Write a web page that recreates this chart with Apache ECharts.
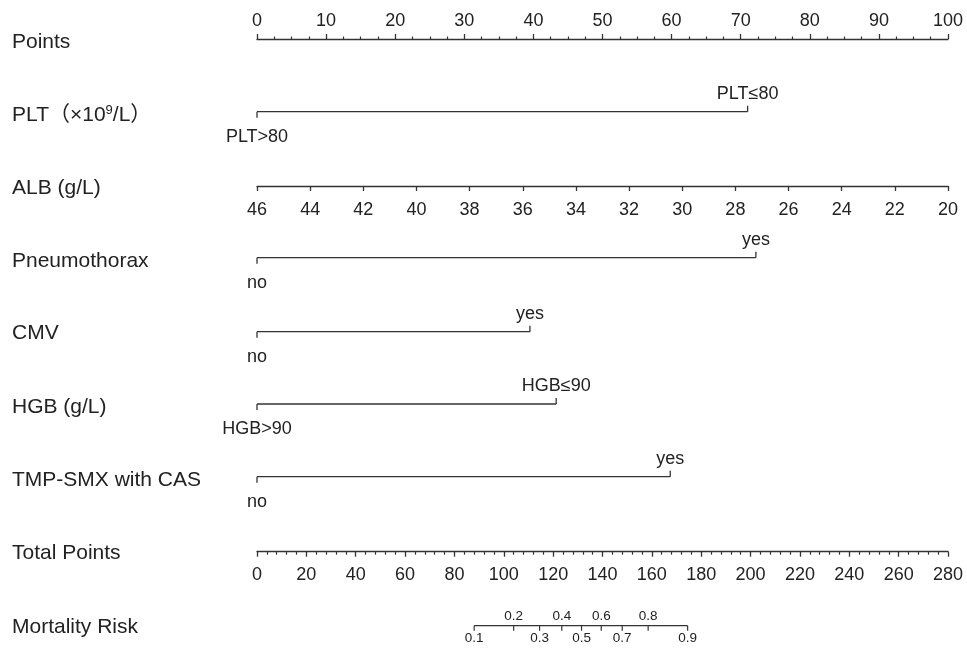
<!DOCTYPE html>
<html>
<head>
<meta charset="utf-8">
<script src="https://cdn.jsdelivr.net/npm/echarts@6/dist/echarts.min.js"></script>
<style>html,body{margin:0;padding:0;background:#fff}#c{width:967px;height:651px}</style>
</head>
<body>
<div id="c"></div>
<script>
// ---- data ----
const rowNames = ['Points', 'PLT\uFF08\u00D710{s|9}/L\uFF09', 'ALB (g/L)', 'Pneumothorax', 'CMV', 'HGB (g/L)', 'TMP-SMX with CAS', 'Total Points', 'Mortality Risk'];
const pointsTicks = [0, 10, 20, 30, 40, 50, 60, 70, 80, 90, 100];
const albTicks = [46, 44, 42, 40, 38, 36, 34, 32, 30, 28, 26, 24, 22, 20];
const totalPointsTicks = [0, 20, 40, 60, 80, 100, 120, 140, 160, 180, 200, 220, 240, 260, 280];
const pltLevels = ['PLT>80', 'PLT\u226480'];
const pltPoints = [0, 71];
const pneumoLevels = ['no', 'yes'];
const pneumoPoints = [0, 72.2];
const cmvLevels = ['no', 'yes'];
const cmvPoints = [0, 39.5];
const hgbLevels = ['HGB>90', 'HGB\u226490'];
const hgbPoints = [0, 43.3];
const tmpLevels = ['no', 'yes'];
const tmpPoints = [0, 59.8];
const riskLabels = ['0.1', '0.2', '0.3', '0.4', '0.5', '0.6', '0.7', '0.8', '0.9'];
const riskTotalPoints = [88, 104, 114.5, 123.5, 131.5, 139.5, 148, 158.5, 174.5];

// ---- layout ----
const rowY = [39, 111.7, 186, 257.7, 331.7, 404, 476.7, 551.7, 625.7];
const nameY = [42, 115, 188, 261, 333, 407, 480, 553, 627];
const rowKind = ['top', 'cat', 'bottom', 'cat', 'cat', 'cat', 'cat', 'bottom', 'cat'];
const LEFT = 257, RIGHT = 19;
const INK = '#222', LINE = '#333';
const FONT = "'Liberation Sans', Arial, 'Noto Sans CJK SC', sans-serif";

const grids = [], xAxes = [], yAxes = [], series = [];
rowY.forEach((y, i) => {
  const k = rowKind[i];
  const top = k === 'top' ? y : (k === 'bottom' ? y - 40 : y - 20);
  grids.push({ left: LEFT, right: RIGHT, top: top, height: 40, outerBoundsMode: 'none' });
  yAxes.push({ gridIndex: i, type: 'value', min: -1, max: 1, show: false });
});

const baseX = (i) => ({
  gridIndex: i, type: 'value', splitLine: { show: false },
  axisLine: { show: true, onZero: false, lineStyle: { color: LINE, width: 1.3 } },
  axisTick: { show: true, length: 5, lineStyle: { color: LINE, width: 1.3 } },
  axisLabel: { color: INK, fontSize: 18, fontFamily: FONT }
});

// 0: Points
xAxes.push(Object.assign(baseX(0), {
  position: 'top', min: pointsTicks[0], max: pointsTicks[pointsTicks.length - 1], interval: pointsTicks[1] - pointsTicks[0],
  minorTick: { show: true, splitNumber: 4, length: 2.5, lineStyle: { color: LINE, width: 1.2 } },
  axisLabel: { color: INK, fontSize: 18, fontFamily: FONT, margin: 9 }
}));

// categorical rows helper
function catRow(i, levels, pts) {
  xAxes.push({ gridIndex: i, type: 'value', min: pointsTicks[0], max: pointsTicks[pointsTicks.length - 1], show: false });
  series.push({
    type: 'line', xAxisIndex: i, yAxisIndex: i, silent: true, animation: false,
    symbol: 'rect', symbolSize: [1.3, 6], showAllSymbol: true,
    itemStyle: { color: LINE }, lineStyle: { color: LINE, width: 1.3 },
    label: { show: true, formatter: '{b}', color: INK, fontSize: 18, fontFamily: FONT },
    data: levels.map((l, k) => ({
      name: l, value: [pts[k], 0],
      symbolOffset: k === 0 ? [0, 3] : [0, -3],
      label: k === 0 ? { position: 'bottom', distance: 10 } : { position: 'top', distance: 3 }
    }))
  });
}

// 1: PLT
catRow(1, pltLevels, pltPoints);
// 2: ALB
xAxes.push(Object.assign(baseX(2), {
  position: 'bottom', min: albTicks[albTicks.length - 1], max: albTicks[0], interval: albTicks[0] - albTicks[1], inverse: true,
  axisLabel: { color: INK, fontSize: 18, fontFamily: FONT, margin: 15 }
}));
// 3..6
catRow(3, pneumoLevels, pneumoPoints);
catRow(4, cmvLevels, cmvPoints);
catRow(5, hgbLevels, hgbPoints);
catRow(6, tmpLevels, tmpPoints);
// 7: Total Points
xAxes.push(Object.assign(baseX(7), {
  position: 'bottom', min: totalPointsTicks[0], max: totalPointsTicks[totalPointsTicks.length - 1], interval: totalPointsTicks[1] - totalPointsTicks[0],
  minorTick: { show: true, splitNumber: 5, length: 3, lineStyle: { color: LINE, width: 1.2 } },
  axisLabel: { color: INK, fontSize: 18, fontFamily: FONT, margin: 14 }
}));
// 8: Mortality Risk
xAxes.push({ gridIndex: 8, type: 'value', min: totalPointsTicks[0], max: totalPointsTicks[totalPointsTicks.length - 1], show: false });
series.push({
  type: 'line', xAxisIndex: 8, yAxisIndex: 8, silent: true, animation: false,
  symbol: 'rect', symbolSize: [1.2, 5], symbolOffset: [0, 2.5], showAllSymbol: true,
  itemStyle: { color: LINE }, lineStyle: { color: LINE, width: 1.3 },
  label: { show: true, formatter: '{b}', color: INK, fontSize: 13.5, fontFamily: FONT },
  data: riskTotalPoints.map((tp, k) => ({
    name: riskLabels[k], value: [tp, 0],
    label: k % 2 === 0 ? { position: 'bottom', distance: 1 } : { position: 'top', distance: 3 }
  }))
});

const graphics = rowNames.map((n, i) => ({
  type: 'text', x: 12, y: nameY[i], silent: true,
  style: {
    text: n, fill: INK, fontSize: 21, fontFamily: FONT, verticalAlign: 'middle',
    rich: { s: { fontSize: 13, fontFamily: FONT, fill: INK, padding: [0, 0, 10, 0] } }
  }
}));

const chart = echarts.init(document.getElementById('c'));
chart.setOption({
  backgroundColor: '#fff',
  animation: false,
  grid: grids, xAxis: xAxes, yAxis: yAxes, series: series,
  graphic: graphics
});
</script>
</body>
</html>
